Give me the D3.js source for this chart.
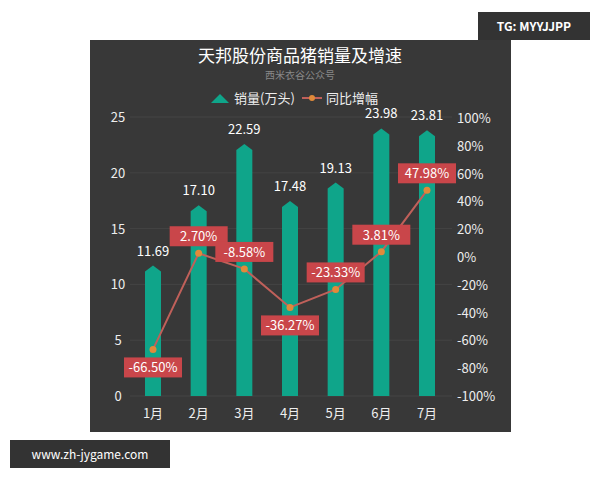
<!DOCTYPE html>
<html><head><meta charset="utf-8">
<script src="https://cdn.jsdelivr.net/npm/d3@7"></script>
<style>body{margin:0;background:#fff}svg{display:block}text{font-family:"Noto Sans CJK SC","Noto Sans",sans-serif}</style>
</head><body><svg id="c" width="600" height="480"></svg>
<script>
const categories=["1月","2月","3月","4月","5月","6月","7月"];
const sales=[11.69,17.10,22.59,17.48,19.13,23.98,23.81];
const growth=[-66.50,2.70,-8.58,-36.27,-23.33,3.81,47.98];
const labelBelow=[true,false,false,true,false,false,false];
const leftTicks=[0,5,10,15,20,25];
const rightTicks=[-100,-80,-60,-40,-20,0,20,40,60,80,100];

const svg=d3.select("#c");
svg.append("rect").attr("x",90).attr("y",40).attr("width",421).attr("height",392).attr("fill","#383838");
const x=d3.scalePoint().domain(categories).range([153,427]);
const yL=d3.scaleLinear().domain([0,25]).range([396,117]);
const yR=d3.scaleLinear().domain([-100,100]).range([396,118]);
const cx=i=>x(categories[i]);

svg.append("g").selectAll("line").data(leftTicks).join("line")
 .attr("x1",130).attr("x2",452).attr("y1",d=>yL(d)).attr("y2",d=>yL(d)).attr("stroke","#444").attr("stroke-width",1);
svg.append("g").selectAll("text").data(leftTicks).join("text")
 .attr("x",118).attr("y",d=>yL(d)+5).attr("text-anchor","middle").attr("fill","#eee").attr("font-size",13).text(d=>d);
svg.append("g").selectAll("text").data(rightTicks).join("text")
 .attr("x",457).attr("y",d=>yR(d)+5).attr("fill","#eee").attr("font-size",13).text(d=>d+"%");
svg.append("g").selectAll("text").data(categories).join("text")
 .attr("x",d=>x(d)).attr("y",418).attr("text-anchor","middle").attr("fill","#eee").attr("font-size",13).text(d=>d);

const bw=16;
svg.append("g").selectAll("path").data(sales).join("path")
 .attr("d",(d,i)=>{const c=cx(i),t=yL(d),b=yL(0);
   return `M${c-bw/2},${b}L${c-bw/2},${t+6}L${c},${t}L${c+bw/2},${t+6}L${c+bw/2},${b}Z`;})
 .attr("fill","#0fa58a");
svg.append("g").selectAll("text").data(sales).join("text")
 .attr("x",(d,i)=>cx(i)).attr("y",d=>yL(d)-10).attr("text-anchor","middle")
 .attr("fill","#fff").attr("font-size",13).text(d=>d.toFixed(2));

svg.append("path").datum(growth).attr("d",d3.line().x((d,i)=>cx(i)).y(d=>yR(d)))
 .attr("fill","none").attr("stroke","#c0605a").attr("stroke-width",2);
svg.append("g").selectAll("circle").data(growth).join("circle")
 .attr("cx",(d,i)=>cx(i)).attr("cy",d=>yR(d)).attr("r",3.5).attr("fill","#e08a3a");
const lg=svg.append("g").selectAll("g").data(growth).join("g")
 .attr("transform",(d,i)=>`translate(${cx(i)},${yR(d)+(labelBelow[i]?18:-17)})`);
lg.append("rect").attr("x",-29).attr("y",-10).attr("width",58).attr("height",20).attr("fill","#c9464a");
lg.append("text").attr("y",5).attr("text-anchor","middle").attr("fill","#fff").attr("font-size",13).text(d=>d.toFixed(2)+"%");

svg.append("text").attr("x",300).attr("y",62).attr("text-anchor","middle").attr("fill","#fff").attr("font-size",17).text("天邦股份商品猪销量及增速");
svg.append("text").attr("x",300).attr("y",79).attr("text-anchor","middle").attr("fill","#888").attr("font-size",10).text("西米衣谷公众号");
svg.append("path").attr("d","M211,103L220,94L229,103Z").attr("fill","#0fa58a");
svg.append("text").attr("x",234).attr("y",103).attr("fill","#eee").attr("font-size",13).text("销量(万头)");
svg.append("line").attr("x1",302).attr("x2",322).attr("y1",98).attr("y2",98).attr("stroke","#c0605a").attr("stroke-width",2);
svg.append("circle").attr("cx",312).attr("cy",98).attr("r",3).attr("fill","#e08a3a");
svg.append("text").attr("x",326).attr("y",103).attr("fill","#eee").attr("font-size",13).text("同比增幅");

svg.append("rect").attr("x",478).attr("y",12).attr("width",112).attr("height",28).attr("fill","#333");
svg.append("text").attr("x",534).attr("y",31).attr("text-anchor","middle").attr("fill","#fff").attr("font-size",12).attr("font-weight","bold").text("TG: MYYJJPP");
svg.append("rect").attr("x",10).attr("y",440).attr("width",160).attr("height",28).attr("fill","#333");
svg.append("text").attr("x",90).attr("y",459).attr("text-anchor","middle").attr("fill","#fff").attr("font-size",12).text("www.zh-jygame.com");
</script></body></html>
